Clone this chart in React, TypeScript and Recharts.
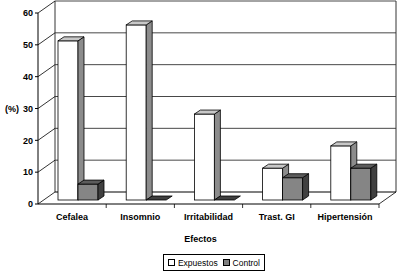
import React from "react";
import {
  BarChart,
  Bar,
  XAxis,
  YAxis,
  CartesianGrid,
  Legend,
  Label,
} from "recharts";

const categories = ["Cefalea", "Insomnio", "Irritabilidad", "Trast. GI", "Hipertensión"];
const expuestos = [50, 55, 27, 10, 17];
const control = [5, 0, 0, 7, 10];
const yTicks = [0, 10, 20, 30, 40, 50, 60];

const data = categories.map((name, i) => ({
  name,
  Expuestos: expuestos[i],
  Control: control[i],
}));

// oblique depth of the box (back wall offset) and of the bars
const WALL_DX = 17;
const WALL_DY = -12;
const BAR_DX = 6;
const BAR_DY = -4;
const SIDE_X = 6;
const SIDE_Y = 4;

const FONT = "Arial, 'Liberation Sans', sans-serif";

const makeBar = (front: string, side: string, top: string) => (props: any) => {
  const { x, y, width, height } = props;
  const fx = x + BAR_DX;
  const fy = y + BAR_DY;
  const h = Math.max(0, height);
  const topPts = `${fx},${fy} ${fx + SIDE_X},${fy - SIDE_Y} ${fx + width + SIDE_X},${fy - SIDE_Y} ${fx + width},${fy}`;
  const sidePts = `${fx + width},${fy} ${fx + width + SIDE_X},${fy - SIDE_Y} ${fx + width + SIDE_X},${fy + h - SIDE_Y} ${fx + width},${fy + h}`;
  return (
    <g>
      {h > 0 && <rect x={fx} y={fy} width={width} height={h} fill={front} stroke="#000" strokeWidth={0.8} />}
      {h > 0 && <polygon points={sidePts} fill={side} stroke="#000" strokeWidth={0.8} />}
      <polygon points={topPts} fill={h > 0 ? top : side} stroke="#000" strokeWidth={0.8} />
    </g>
  );
};

const gridLine = (props: any) => {
  const { x1, y1, x2, index, y, height } = props;
  const bottom = (y ?? 13) + (height ?? 191);
  const isFloor = Math.abs(y1 - bottom) < 0.5;
  return (
    <g key={`g-${index}`}>
      <line x1={x1} y1={y1} x2={x1 + WALL_DX} y2={y1 + WALL_DY} stroke="#000" strokeWidth={0.8} />
      <line
        x1={x1 + WALL_DX}
        y1={y1 + WALL_DY}
        x2={x2 + WALL_DX}
        y2={y1 + WALL_DY}
        stroke={isFloor ? "#000" : "#333"}
        strokeWidth={isFloor ? 1.2 : 0.9}
      />
      {isFloor && (
        <>
          <line x1={x2} y1={y1} x2={x2 + WALL_DX} y2={y1 + WALL_DY} stroke="#000" strokeWidth={0.8} />
          <line x1={x1 + WALL_DX} y1={y1 + WALL_DY} x2={x1 + WALL_DX} y2={(y ?? 13) + WALL_DY} stroke="#000" strokeWidth={0.8} />
          <line x1={x2 + WALL_DX} y1={y1 + WALL_DY} x2={x2 + WALL_DX} y2={(y ?? 13) + WALL_DY} stroke="#000" strokeWidth={0.8} />
        </>
      )}
    </g>
  );
};

const CategoryTick = (props: any) => {
  const { x, y, payload } = props;
  const band = 341 / categories.length;
  return (
    <g>
      <line x1={x + band / 2} y1={y - 8} x2={x + band / 2} y2={y - 4} stroke="#000" strokeWidth={0.8} />
      <text x={x} y={y + 8} textAnchor="middle" fontFamily={FONT} fontSize={9} fontWeight="bold" fill="#000">
        {payload.value}
      </text>
    </g>
  );
};

const LegendBox = () => (
  <div
    style={{
      border: "1px solid #000",
      padding: "1px 4px",
      fontFamily: FONT,
      fontSize: 8.5,
      display: "flex",
      alignItems: "center",
      gap: 3,
      background: "#fff",
      width: 92,
      height: 13,
    }}
  >
    <span style={{ width: 5, height: 5, border: "1px solid #000", background: "#fff", display: "inline-block" }} />
    <span>Expuestos</span>
    <span style={{ width: 5, height: 5, border: "1px solid #000", background: "#808080", display: "inline-block", marginLeft: 2 }} />
    <span>Control</span>
  </div>
);

export default function App() {
  return (
    <div style={{ position: "fixed", left: 0, top: 0, width: 405, height: 272, background: "#fff" }}>
      <BarChart
        width={405}
        height={272}
        data={data}
        margin={{ top: 13, right: 26, bottom: 28, left: 0 }}
        barCategoryGap={14}
        barGap={0}
      >
        <CartesianGrid horizontal={gridLine} vertical={false} />
        <XAxis
          dataKey="name"
          height={40}
          axisLine={{ stroke: "#000", strokeWidth: 1 }}
          tickLine={false}
          tick={<CategoryTick />}
          interval={0}
        >
          <Label
            value="Efectos"
            position="insideBottom"
            offset={0}
            dx={-8}
            dy={-2}
            style={{ fontFamily: FONT, fontSize: 9, fontWeight: "bold", fill: "#000" }}
          />
        </XAxis>
        <YAxis
          width={38}
          domain={[0, 60]}
          ticks={yTicks}
          interval={0}
          axisLine={{ stroke: "#000", strokeWidth: 1 }}
          tickLine={{ stroke: "#000" }}
          tickSize={3}
          tick={{ fontFamily: FONT, fontSize: 9, fontWeight: "bold", fill: "#000" }}
        >
          <Label
            value="(%)"
            position="insideLeft"
            offset={5}
            style={{ fontFamily: FONT, fontSize: 9, fontWeight: "bold", fill: "#000" }}
          />
        </YAxis>
        <Legend
          layout="horizontal"
          verticalAlign="middle"
          align="center"
          content={<LegendBox />}
          wrapperStyle={{ position: "absolute", top: 254, left: 163, width: "auto" }}
        />
        <Bar dataKey="Expuestos" fill="#fff" isAnimationActive={false} shape={makeBar("#ffffff", "#8c8c8c", "#c8c8c8")} />
        <Bar dataKey="Control" fill="#808080" isAnimationActive={false} shape={makeBar("#858585", "#404040", "#5c5c5c")} />
      </BarChart>
    </div>
  );
}
